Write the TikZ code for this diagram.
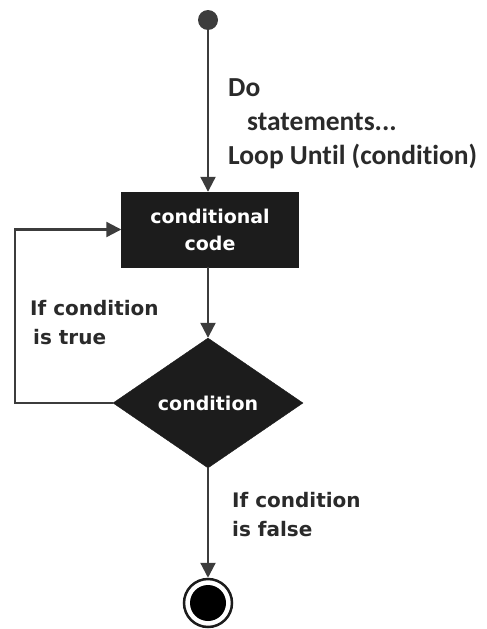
\documentclass[tikz,border=0pt]{standalone}
\usepackage{fontspec}
\setmainfont{DejaVu Sans}
\newfontfamily\lblfont[Ligatures={NoCommon,NoContextual}]{Carlito}
\usepackage{tikz}
\usetikzlibrary{arrows.meta,shapes.geometric}
\definecolor{cTinta}{HTML}{1C1C1C}
\definecolor{cLinha}{HTML}{3C3C3C}
\definecolor{cTexto}{HTML}{2A2A2A}

\begin{document}
\begin{tikzpicture}[
  x=1pt,y=1pt,
  acao/.style={draw=cTinta,fill=cTinta,text=white,align=center,inner sep=0pt,
               minimum width=177pt,minimum height=75pt,
               font=\bfseries\fontsize{19}{27}\selectfont},
  decisao/.style={diamond,draw=cTinta,fill=cTinta,text=white,inner sep=0pt,
               minimum width=190pt,minimum height=130pt,
               font=\bfseries\fontsize{19}{27}\selectfont},
  inicio/.style={circle,fill=cLinha,inner sep=0pt,minimum size=20pt},
  fim/.style={circle,draw=cTinta,fill=white,line width=2.5pt,inner sep=0pt,minimum size=48pt},
  fimin/.style={circle,fill=black,inner sep=0pt,minimum size=36pt},
  ar/.style={-{Triangle[length=15pt,width=15pt]},draw=cLinha,line width=2.2pt},
  lbl/.style={anchor=north west,align=left,text=cTexto,inner sep=0pt,
              font=\bfseries\fontsize{20}{29.5}\selectfont},
  lblc/.style={anchor=north west,align=left,text=cTexto,inner sep=0pt,
              font=\lblfont\bfseries\fontsize{27.5}{34}\selectfont}
]
\useasboundingbox (0,0) rectangle (487,-629);

% ---- nos
\node[inicio]  (start) at (208,-20)  {};
\node[acao]    (code)  at (210,-229.5) {conditional\\ code};
\node[decisao] (cond)  at (208,-403) {condition};
\node[fim]     (stop)  at (208,-603) {};
\node[fimin]   (stopin) at (stop) {};
\coordinate (volta) at (15,-403);

% ---- setas
\draw[ar] (start) -- (start |- code.north);
\draw[ar] (code.south -| cond.north) -- (cond.north);
\draw[ar] (cond.west) -- (volta) |- (code.west);
\draw[ar] (cond.south) -- (stop.north);

% ---- rotulos
\node[lblc] (rDo) at (228,-78) {Do\\ \hspace*{19pt}statements...\\ Loop Until (condition)};
\node[lbl]  (rTrue) at (30,-300) {If condition\\ \hspace*{3pt}is true};
\node[lbl]  (rFalse) at (232,-492) {If condition\\ is false};
\end{tikzpicture}
\end{document}
